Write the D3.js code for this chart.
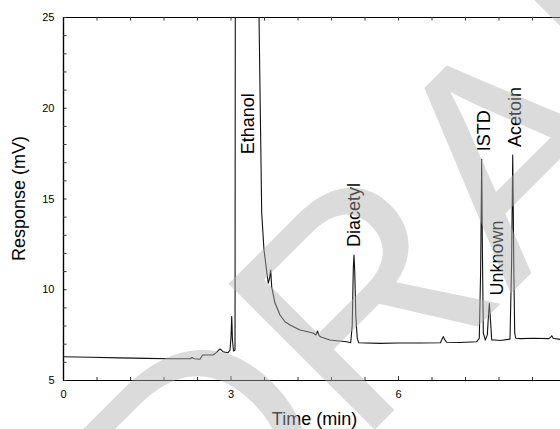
<!DOCTYPE html>
<html>
<head>
<meta charset="utf-8">
<script src="https://cdn.jsdelivr.net/npm/d3@7/dist/d3.min.js"></script>
<style>
  html, body { margin: 0; padding: 0; background: #ffffff; }
  svg { display: block; }
  text { font-family: "Liberation Sans", Arial, Helvetica, sans-serif; }
</style>
</head>
<body>
<svg id="chart" width="560" height="429"></svg>
<script>
// Chromatogram trace: retention time (min) and detector response (mV).
// The ethanol solvent peak saturates far above the 25 mV scale.
const timeMin = [
  0.00, 0.50, 1.00, 1.50, 1.90, 2.25, 2.28, 2.31, 2.35, 2.454, 2.50,
  2.687, 2.75, 2.812, 2.866, 2.955, 2.991, 3.010, 3.022, 3.035, 3.054, 3.081,
  3.095, 3.500, 3.511, 3.535, 3.559, 3.600, 3.645, 3.677, 3.700, 3.720, 3.738,
  3.797, 3.887, 3.976, 4.066, 4.245, 4.478, 4.530, 4.558, 4.585, 4.620, 4.780,
  5.080, 5.153, 5.180, 5.200, 5.212, 5.225, 5.245, 5.270, 5.296, 5.678, 6.000,
  6.394, 6.760, 6.800, 6.812, 6.830, 6.870, 7.110, 7.410, 7.456, 7.480, 7.499,
  7.512, 7.528, 7.564, 7.600, 7.625, 7.636, 7.650, 7.679, 7.750, 7.830, 8.006,
  8.035, 8.055, 8.075, 8.090, 8.108, 8.200, 8.418, 8.700, 8.740, 8.753, 8.780,
  8.902, 9.000
];
const responseMv = [
  6.28, 6.25, 6.22, 6.19, 6.17, 6.17, 6.17, 6.24, 6.17, 6.14, 6.38,
  6.38, 6.52, 6.71, 6.56, 6.50, 6.65, 7.40, 8.50, 7.20, 6.60, 6.65,
  60.0, 60.0, 25.0, 19.5, 14.2, 12.16, 11.06, 10.34, 10.60, 11.06, 10.12,
  9.24, 8.58, 8.21, 8.03, 7.75, 7.59, 7.48, 7.70, 7.45, 7.37, 7.20,
  7.11, 7.05, 8.00, 11.20, 11.89, 11.00, 8.50, 7.30, 7.05, 7.02, 7.04,
  7.04, 7.05, 7.32, 7.39, 7.25, 7.08, 7.07, 7.11, 7.30, 11.00, 17.16,
  12.00, 7.60, 7.20, 7.50, 8.80, 9.22, 8.60, 7.20, 7.20, 7.18, 7.25,
  11.50, 17.40, 11.00, 7.60, 7.30, 7.28, 7.30, 7.28, 7.38, 7.44, 7.30,
  7.24, 7.24
];

// Identified peaks: name, retention time (min) and apex response (mV).
// Ethanol is off scale; its entry marks where its label sits.
const peakNames = ["Ethanol", "Diacetyl", "ISTD", "Unknown", "Acetoin"];
const peakTimes = [3.30, 5.212, 7.499, 7.636, 8.055];
const peakApex = [17.0, 11.89, 17.16, 9.22, 17.40];

// Axis ticks
const xMajorTicks = [0, 3, 6];
const xMinorTicks = [0.6, 1.2, 1.8, 2.4, 3.6, 4.2, 4.8, 5.4, 6.6, 7.2, 7.8, 8.4];
const yMajorTicks = [5, 10, 15, 20, 25];
const yMinorTicks = d3.range(5, 26, 1).filter(v => v % 5 !== 0);

const xTitle = "Time (min)";
const yTitle = "Response (mV)";
const watermarkText = "DRAFT";

// ---- layout ----
const plot = { left: 63, top: 17, right: 565.5, bottom: 380 };

const x = d3.scaleLinear().domain([0, 9]).range([plot.left, plot.right]);
const y = d3.scaleLinear().domain([5, 25]).range([plot.bottom, plot.top]);

const svg = d3.select("#chart");

svg.append("defs").append("clipPath").attr("id", "plotClip")
  .append("rect")
  .attr("x", plot.left).attr("y", plot.top)
  .attr("width", plot.right - plot.left).attr("height", plot.bottom - plot.top);

// ---- axes (ticks point inward, all four sides framed) ----
const tickFont = 11;

const bottomAxis = svg.append("g")
  .attr("transform", `translate(0,${plot.bottom})`)
  .call(d3.axisBottom(x).tickValues(xMajorTicks).tickSizeInner(-4).tickSizeOuter(0).tickPadding(10).tickFormat(d3.format("d")));
const bottomMinor = svg.append("g")
  .attr("transform", `translate(0,${plot.bottom})`)
  .call(d3.axisBottom(x).tickValues(xMinorTicks).tickSizeInner(-3).tickSizeOuter(0).tickFormat(""));
const topAxis = svg.append("g")
  .attr("transform", `translate(0,${plot.top})`)
  .call(d3.axisTop(x).tickValues(xMajorTicks.concat(xMinorTicks)).tickSizeInner(-3.5).tickSizeOuter(0).tickFormat(""));
const leftAxis = svg.append("g")
  .attr("transform", `translate(${plot.left},0)`)
  .call(d3.axisLeft(y).tickValues(yMajorTicks).tickSizeInner(-3.5).tickSizeOuter(0).tickPadding(8.5).tickFormat(d3.format("d")));
const leftMinor = svg.append("g")
  .attr("transform", `translate(${plot.left},0)`)
  .call(d3.axisLeft(y).tickValues(yMinorTicks).tickSizeInner(-3.5).tickSizeOuter(0).tickFormat(""));
const rightAxis = svg.append("g")
  .attr("transform", `translate(${plot.right},0)`)
  .call(d3.axisRight(y).tickValues(yMajorTicks.concat(yMinorTicks)).tickSizeInner(-3.5).tickSizeOuter(0).tickFormat(""));

[bottomAxis, bottomMinor, topAxis, leftAxis, leftMinor, rightAxis].forEach(g => {
  g.select(".domain").attr("stroke", "#000").attr("stroke-width", 1.2);
  g.selectAll(".tick line").attr("stroke", "#333").attr("stroke-width", 1);
  g.selectAll(".tick text")
    .attr("fill", "#000")
    .style("font-size", tickFont + "px")
    .style("font-family", '"Liberation Sans", Arial, sans-serif');
});

// ---- trace ----
const trace = timeMin.map((t, i) => ({ t, v: responseMv[i] }));
const line = d3.line().x(d => x(d.t)).y(d => y(d.v));

svg.append("path")
  .datum(trace)
  .attr("clip-path", "url(#plotClip)")
  .attr("fill", "none")
  .attr("stroke", "#111")
  .attr("stroke-width", 1.1)
  .attr("stroke-linejoin", "round")
  .attr("d", line);

// ---- peak labels (vertical, reading upward, just above each apex) ----
const labelShift = { Ethanol: 6.6, Diacetyl: 5.5, ISTD: 8.3, Unknown: 13.4, Acetoin: 8.2 };
const labelGap = 8;
svg.append("g").selectAll("text")
  .data(peakNames.map((name, i) => ({ name, t: peakTimes[i], v: peakApex[i] })))
  .join("text")
  .attr("transform", d => `translate(${x(d.t) + labelShift[d.name]},${y(d.v) - labelGap}) rotate(-90)`)
  .attr("text-anchor", "start")
  .attr("fill", "#000")
  .style("font-size", "18px")
  .text(d => d.name);

// ---- axis titles ----
svg.append("text")
  .attr("transform", `translate(25,${(plot.top + plot.bottom) / 2}) rotate(-90)`)
  .attr("text-anchor", "middle")
  .attr("fill", "#000")
  .style("font-size", "18px")
  .text(yTitle);

svg.append("text")
  .attr("x", 314.5)
  .attr("y", 425)
  .attr("text-anchor", "middle")
  .attr("fill", "#000")
  .style("font-size", "18px")
  .text(xTitle);

// ---- translucent watermark laid diagonally over the figure ----
svg.append("text")
  .attr("transform", "translate(187,350) rotate(-45) translate(-165,189)")
  .attr("fill", "#b0b0b0")
  .attr("fill-opacity", 0.45)
  .style("font-size", "300px")
  .text(watermarkText);
</script>
</body>
</html>
